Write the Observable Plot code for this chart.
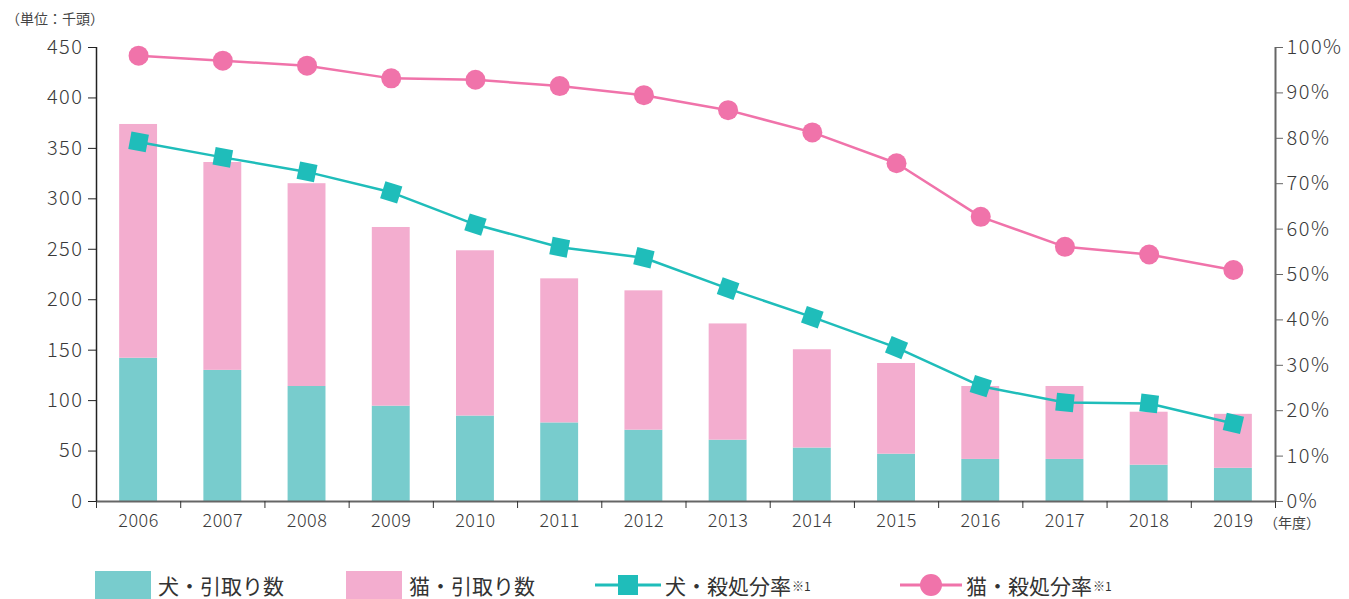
<!DOCTYPE html>
<html>
<head>
<meta charset="utf-8">
<script src="https://cdn.jsdelivr.net/npm/d3@7"></script>
<script src="https://cdn.jsdelivr.net/npm/@observablehq/plot@0.6"></script>
<style>
  body { margin: 0; background: #fff; font-family: "Noto Sans CJK JP", "Noto Sans", sans-serif; color: #333; }
  #wrap { position: relative; width: 1349px; height: 599px; overflow: hidden; }
  #unit { position: absolute; left: 6px; top: 8px; font-size: 14px; color: #444; }
  #nendo { position: absolute; left: 1264px; top: 512px; font-size: 14px; color: #444; }
  #legend { position: absolute; left: 0; top: 570px; width: 1349px; height: 30px; }
  .li { position: absolute; top: 0; display: flex; align-items: center; height: 30px; font-size: 21px; color: #333; }
  .sw { width: 56px; height: 29px; margin-right: 7px; }
  sup { font-size: 12px; vertical-align: 8px; margin-left: 1px; }
</style>
</head>
<body>
<div id="wrap">
  <div id="chart"></div>
  <div id="unit">（単位：千頭）</div>
  <div id="nendo">（年度）</div>
  <div id="legend"></div>
</div>
<script>
const years = [2006, 2007, 2008, 2009, 2010, 2011, 2012, 2013, 2014, 2015, 2016, 2017, 2018, 2019];
const dogIntake = [142, 130, 114, 94.5, 84.7, 77.9, 70.7, 60.8, 53, 46.9, 41.7, 41.7, 36, 32.9];
const catIntake = [231.7, 206, 201, 177.1, 163.8, 142.8, 138.1, 115.2, 97.4, 89.9, 72.3, 72.3, 52.5, 53.5];
const dogRate = [79.2, 75.8, 72.6, 68.1, 61.0, 56.0, 53.7, 46.9, 40.6, 33.9, 25.4, 21.8, 21.6, 17.2];
const catRate = [98.2, 97.1, 96.0, 93.2, 92.9, 91.5, 89.5, 86.2, 81.3, 74.5, 62.7, 56.1, 54.4, 51.0];
const countTicks = [0, 50, 100, 150, 200, 250, 300, 350, 400, 450];
const rateTicks = [0, 10, 20, 30, 40, 50, 60, 70, 80, 90, 100];
const legendLabels = ["犬・引取り数", "猫・引取り数", "犬・殺処分率", "猫・殺処分率"];

const C_DOG_BAR = "#78cccd", C_CAT_BAR = "#f3adcf", C_DOG_LINE = "#1fbdba", C_CAT_LINE = "#f073aa";
const RATE_K = 450 / 100; // right axis: 100% maps to 450 on the left scale
const half = 0.225;

const rows = years.map((y, i) => ({
  year: y, dog: dogIntake[i], cat: catIntake[i],
  dogR: dogRate[i] * RATE_K, catR: catRate[i] * RATE_K, rot: 0
}));
const bounds = [years[0] - 0.5, ...years.map(y => y + 0.5)];

function build() {
  return Plot.plot({
    width: 1349, height: 560,
    marginLeft: 96, marginRight: 74, marginTop: 47, marginBottom: 59,
    style: { fontFamily: "'Noto Sans CJK JP', 'Noto Sans', sans-serif", color: "#3a3a3a", background: "transparent" },
    x: { type: "linear", domain: [years[0] - 0.5, years[years.length - 1] + 0.5] },
    y: { domain: [0, 450] },
    marks: [
      Plot.rectY(rows, { x1: d => d.year - half, x2: d => d.year + half, y1: 0, y2: "dog", fill: C_DOG_BAR }),
      Plot.rectY(rows, { x1: d => d.year - half, x2: d => d.year + half, y1: "dog", y2: d => d.dog + d.cat, fill: C_CAT_BAR }),
      Plot.line(rows, { x: "year", y: "catR", stroke: C_CAT_LINE, strokeWidth: 2.5 }),
      Plot.dot(rows, { x: "year", y: "catR", r: 10, fill: C_CAT_LINE, stroke: "none" }),
      Plot.line(rows, { x: "year", y: "dogR", stroke: C_DOG_LINE, strokeWidth: 2.5 }),
      Plot.dot(rows, { x: "year", y: "dogR", symbol: "square", r: 10, rotate: "rot", fill: C_DOG_LINE, stroke: "none" }),
      Plot.ruleY([0], { stroke: "#666", strokeWidth: 2 }),
      Plot.ruleX([bounds[0]], { stroke: "#222", strokeWidth: 1.5 }),
      Plot.ruleX([bounds[bounds.length - 1]], { stroke: "#666", strokeWidth: 2 }),
      Plot.axisY({ anchor: "left", ticks: countTicks, tickSize: 8, tickPadding: 5, fontSize: 20, label: null, stroke: "#222" }),
      Plot.axisY({ anchor: "right", ticks: rateTicks.map(r => r * RATE_K), tickFormat: d => Math.round(d / RATE_K) + "%", tickSize: 7, tickPadding: 4, fontSize: 20, label: null, stroke: "#666" }),
      Plot.axisX({ ticks: bounds, tickFormat: () => "", tickSize: 7, label: null, stroke: "#333" }),
      Plot.axisX({ ticks: years, tickFormat: d => String(d), tickSize: 0, tickPadding: 13, fontSize: 18, label: null })
    ]
  });
}

// first pass: read the scales to orient the square markers along the line
const probe = build();
const sx = probe.scale("x"), sy = probe.scale("y");
const px = d => sx.apply(d.year), py = d => sy.apply(d.dogR);
rows.forEach((d, i) => {
  const a = rows[Math.max(0, i - 1)], b = rows[Math.min(rows.length - 1, i + 1)];
  const ang1 = i > 0 ? Math.atan2(py(d) - py(a), px(d) - px(a)) : null;
  const ang2 = i < rows.length - 1 ? Math.atan2(py(b) - py(d), px(b) - px(d)) : null;
  const angs = [ang1, ang2].filter(v => v !== null);
  d.rot = (angs.reduce((s, v) => s + v, 0) / angs.length) * 180 / Math.PI;
});

const chart = build();
document.getElementById("chart").appendChild(chart);
d3.select(chart).selectAll('g[aria-label="y-axis tick label"] text')
  .style("letter-spacing", "1.5px").style("font-weight", "300");
d3.select(chart).selectAll('g[aria-label="x-axis tick label"] text')
  .style("letter-spacing", "0.5px").style("font-weight", "300");

const legend = document.getElementById("legend");
const items = [
  { left: 95, html: `<div class="sw" style="background:${C_DOG_BAR}"></div>${legendLabels[0]}` },
  { left: 346, html: `<div class="sw" style="background:${C_CAT_BAR}"></div>${legendLabels[1]}` },
  { left: 595, html: `<svg width="66" height="30" style="margin-right:4px"><line x1="0" x2="66" y1="15" y2="15" stroke="${C_DOG_LINE}" stroke-width="3"/><rect x="23" y="5" width="20" height="20" fill="${C_DOG_LINE}"/></svg>${legendLabels[2]}<sup>※1</sup>` },
  { left: 900, html: `<svg width="62" height="30" style="margin-right:4px"><line x1="0" x2="62" y1="15" y2="15" stroke="${C_CAT_LINE}" stroke-width="3"/><circle cx="31" cy="15" r="11" fill="${C_CAT_LINE}"/></svg>${legendLabels[3]}<sup>※1</sup>` }
];
for (const it of items) {
  const d = document.createElement("div");
  d.className = "li";
  d.style.left = it.left + "px";
  d.innerHTML = it.html;
  legend.appendChild(d);
}
</script>
</body>
</html>
